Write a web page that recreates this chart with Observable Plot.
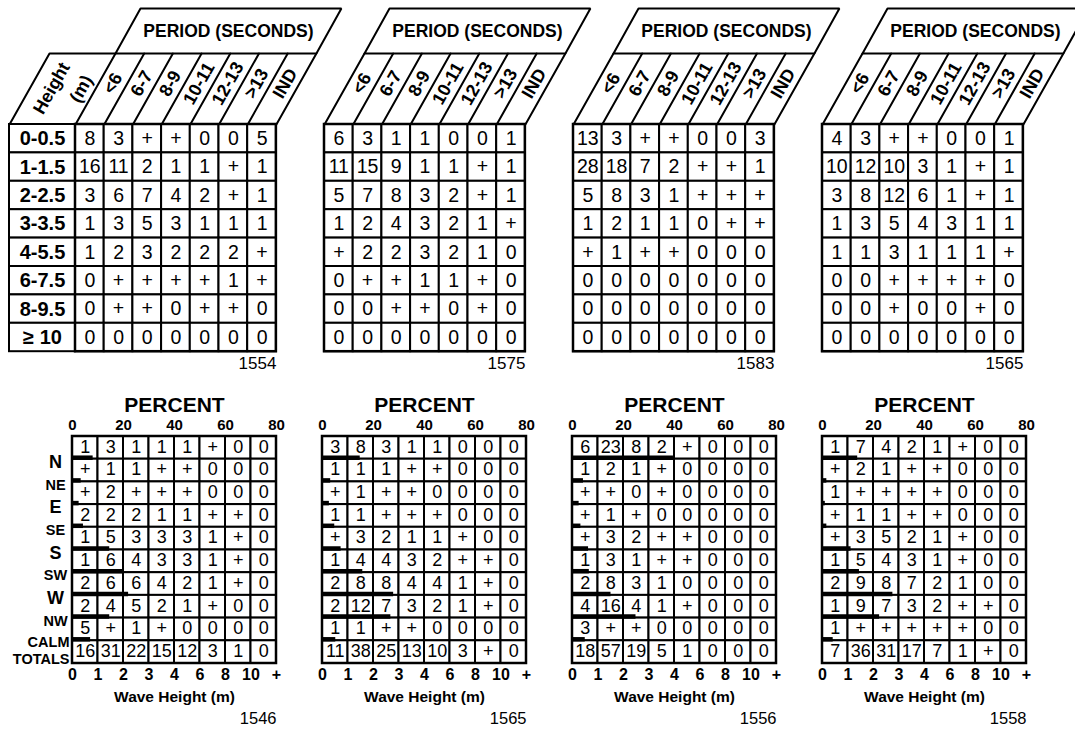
<!DOCTYPE html>
<html><head><meta charset="utf-8">
<script src="https://cdn.jsdelivr.net/npm/d3@7"></script>
<script src="https://cdn.jsdelivr.net/npm/@observablehq/plot@0.6"></script>
<style>
body{margin:0;background:#fff;}
#chart{position:relative;width:1075px;height:729px;overflow:hidden;background:#fff;font-family:"Liberation Sans",Arial,sans-serif;}
#chart svg{position:absolute;}
</style></head><body><div id="chart"></div>
<script>
// ---------- DATA ----------
const periods = ["<6","6-7","8-9","10-11","12-13",">13","IND"];
const heightClasses = ["0-0.5","1-1.5","2-2.5","3-3.5","4-5.5","6-7.5","8-9.5","≥ 10"];
const topIds = ["1554","1575","1583","1565"];

const top1554 = [
  ["8","3","+","+","0","0","5"],
  ["16","11","2","1","1","+","1"],
  ["3","6","7","4","2","+","1"],
  ["1","3","5","3","1","1","1"],
  ["1","2","3","2","2","2","+"],
  ["0","+","+","+","+","1","+"],
  ["0","+","+","0","+","+","0"],
  ["0","0","0","0","0","0","0"]];
const top1575 = [
  ["6","3","1","1","0","0","1"],
  ["11","15","9","1","1","+","1"],
  ["5","7","8","3","2","+","1"],
  ["1","2","4","3","2","1","+"],
  ["+","2","2","3","2","1","0"],
  ["0","+","+","1","1","+","0"],
  ["0","0","+","+","0","+","0"],
  ["0","0","0","0","0","0","0"]];
const top1583 = [
  ["13","3","+","+","0","0","3"],
  ["28","18","7","2","+","+","1"],
  ["5","8","3","1","+","+","+"],
  ["1","2","1","1","0","+","+"],
  ["+","1","+","+","0","0","0"],
  ["0","0","0","0","0","0","0"],
  ["0","0","0","0","0","0","0"],
  ["0","0","0","0","0","0","0"]];
const top1565 = [
  ["4","3","+","+","0","0","1"],
  ["10","12","10","3","1","+","1"],
  ["3","8","12","6","1","+","1"],
  ["1","3","5","4","3","1","1"],
  ["1","1","3","1","1","1","+"],
  ["0","0","+","+","+","+","0"],
  ["0","0","+","0","0","+","0"],
  ["0","0","0","0","0","0","0"]];

const directions = ["N","NE","E","SE","S","SW","W","NW","CALM","TOTALS"];
const waveHeightTicks = ["0","1","2","3","4","6","8","10","+"];
const percentTicks = [0,20,40,60,80];
const bottomIds = ["1546","1565","1556","1558"];

const bottom1546 = [
  ["1","3","1","1","1","+","0","0"],
  ["+","1","1","+","+","0","0","0"],
  ["+","2","+","+","+","0","0","0"],
  ["2","2","2","1","1","+","+","0"],
  ["1","5","3","3","3","1","+","0"],
  ["1","6","4","3","3","1","+","0"],
  ["2","6","6","4","2","1","+","0"],
  ["2","4","5","2","1","+","0","0"],
  ["5","+","1","+","0","0","0","0"],
  ["16","31","22","15","12","3","1","0"]];
const bottom1565 = [
  ["3","8","3","1","1","0","0","0"],
  ["1","1","1","+","+","0","0","0"],
  ["+","1","+","+","0","0","0","0"],
  ["1","1","+","+","+","0","0","0"],
  ["+","3","2","1","1","+","0","0"],
  ["1","4","4","3","2","+","+","0"],
  ["2","8","8","4","4","1","+","0"],
  ["2","12","7","3","2","1","+","0"],
  ["1","1","+","+","0","0","0","0"],
  ["11","38","25","13","10","3","+","0"]];
const bottom1556 = [
  ["6","23","8","2","+","0","0","0"],
  ["1","2","1","+","0","0","0","0"],
  ["+","+","0","+","0","0","0","0"],
  ["+","1","+","0","0","0","0","0"],
  ["+","3","2","+","+","0","0","0"],
  ["1","3","1","+","+","0","0","0"],
  ["2","8","3","1","0","0","0","0"],
  ["4","16","4","1","+","0","0","0"],
  ["3","+","+","0","0","0","0","0"],
  ["18","57","19","5","1","0","0","0"]];
const bottom1558 = [
  ["1","7","4","2","1","+","0","0"],
  ["+","2","1","+","+","0","0","0"],
  ["1","+","+","+","+","0","0","0"],
  ["+","1","1","+","+","0","0","0"],
  ["+","3","5","2","1","+","0","0"],
  ["1","5","4","3","1","+","0","0"],
  ["2","9","8","7","2","1","0","0"],
  ["1","9","7","3","2","+","+","0"],
  ["1","+","+","+","+","+","0","0"],
  ["7","36","31","17","7","1","+","0"]];

// direction frequency bars (percent)
const bars1546 = [8.1,3.4,2.6,4.3,14.6,19.7,22.0,14.6,7.1];
const bars1565 = [14.8,3.2,2.7,4.8,7.3,15.8,27.9,26.8,5.2];
const bars1556 = [39.6,4.3,2.6,3.3,6.3,6.6,15.1,24.9,5.0];
const bars1558 = [13.8,1.7,1.1,1.7,11.2,14.5,27.6,22.4,4.2];

// ---------- LAYOUT ----------
const FONT = "Liberation Sans, Arial, Helvetica, sans-serif";
const chart = document.getElementById("chart");

function topPanel(values, id, showLabels, dataLeft) {
  const colW = 28.7, rowH = 28.4;
  const W = 380, H = 380, ox = 75, oy = 124;
  const ux = p => p / colW, uy = p => p / rowH;
  const nC = periods.length, nR = heightClasses.length;
  const s = ux(40), hh = uy(71), s2 = ux(25), hb = uy(45), lw = ux(66);
  const cells = [];
  values.forEach((row, r) => row.forEach((v, c) => cells.push({r, c, v})));
  const segs = [];
  for (let j = 0; j <= nC; j++) segs.push({x: j, y: 0, z: "c" + j}, {x: j + s, y: -hh, z: "c" + j});
  [[s, -hh], [s + s2, -hh - hb], [nC + s + s2, -hh - hb], [nC + s, -hh], [s, -hh]]
    .forEach(([x, y]) => segs.push({x, y, z: "box"}));
  if (showLabels) {
    [[-lw, 0], [-lw + s, -hh], [s, -hh]].forEach(([x, y]) => segs.push({x, y, z: "hbox"}));
  }
  const marks = [
    Plot.line(segs, {x: "x", y: "y", z: "z", stroke: "black", strokeWidth: 2, strokeLinejoin: "miter"}),
    Plot.rect(cells, {x1: "c", x2: d => d.c + 1, y1: "r", y2: d => d.r + 1, fill: "white", stroke: "black", strokeWidth: 2}),
    Plot.text(cells, {x: d => d.c + 0.5, y: d => d.r + 0.5, text: "v", fontSize: 19.5, fontFamily: FONT, fill: "black"}),
    Plot.text(periods, {x: (d, i) => i + 0.5 + s * 41 / 71, y: -uy(41), text: d => d, rotate: -60.6,
      fontSize: 18, fontWeight: "bold", fontFamily: FONT, fill: "black"}),
    Plot.text(["PERIOD (SECONDS)"], {x: nC / 2 + s + s2 / 2, y: -hh - hb / 2, text: d => d,
      fontSize: 17.5, fontWeight: "bold", fontFamily: FONT, fill: "black"}),
    Plot.text([id], {x: nC, y: nR + uy(12), text: d => d, textAnchor: "end", fontSize: 17, fontFamily: FONT, fill: "black"})
  ];
  if (showLabels) {
    marks.push(
      Plot.rect(heightClasses, {x1: -lw, x2: 0, y1: (d, i) => i, y2: (d, i) => i + 1, fill: "white", stroke: "black", strokeWidth: 2}),
      Plot.text(heightClasses, {x: -lw / 2, y: (d, i) => i + 0.5, text: d => d, fontSize: 20, fontWeight: "bold", fontFamily: FONT, fill: "black"}),
      Plot.text(["Height\n(m)"], {x: ux(-1), y: -uy(55.5), text: d => d, rotate: -60.6, textAnchor: "end",
        lineAnchor: "middle", lineHeight: 1.45, fontSize: 18, fontWeight: "bold", fontFamily: FONT, fill: "black"})
    );
  }
  marks.push(Plot.rect([0], {x1: 0, x2: nC, y1: 0, y2: nR, fill: "none", stroke: "black", strokeWidth: 2.5}));
  const svg = Plot.plot({
    width: W, height: H,
    marginTop: 0, marginRight: 0, marginBottom: 0, marginLeft: 0,
    x: {domain: [-ox / colW, (W - ox) / colW], range: [0, W], axis: null},
    y: {domain: [-oy / rowH, (H - oy) / rowH], range: [0, H], axis: null},
    style: {background: "transparent", overflow: "visible", fontFamily: FONT},
    marks
  });
  svg.style.left = (dataLeft - ox) + "px";
  svg.style.top = "0px";
  chart.appendChild(svg);
}

function bottomPanel(values, bars, id, showLabels, gridLeft) {
  const pxPct = 204 / 80, rowH = 22.7;
  const W = 335, H = 344, ox = 75, oy = 51;
  const ux = p => p / pxPct, uy = p => p / rowH;
  const nR = directions.length;
  const cells = [];
  values.forEach((row, r) => row.forEach((v, c) => cells.push({r, c, v})));
  const barData = bars.map((p, i) => ({p, i}));
  const marks = [
    Plot.rect(cells, {x1: d => d.c * 10, x2: d => d.c * 10 + 10, y1: "r", y2: d => d.r + 1, fill: "white", stroke: "black", strokeWidth: 2}),
    Plot.text(cells, {x: d => d.c * 10 + 5, y: d => d.r + 0.5, text: "v", dy: -1, fontSize: 18, fontFamily: FONT, fill: "black"}),
    Plot.ruleY(barData, {y: d => d.i + 1, x1: 0, x2: "p", stroke: "black", strokeWidth: 4.5, dy: -1.5}),
    Plot.rect([0], {x1: 0, x2: 80, y1: 0, y2: nR, fill: "none", stroke: "black", strokeWidth: 2.5}),
    Plot.text(percentTicks, {x: d => d, y: -uy(11), text: d => String(d), fontSize: 15, fontWeight: "bold", fontFamily: FONT, fill: "black"}),
    Plot.text(["PERCENT"], {x: 40, y: -uy(31), text: d => d, fontSize: 21, fontWeight: "bold", fontFamily: FONT, fill: "black"}),
    Plot.text(waveHeightTicks, {x: (d, i) => i * 10, y: nR + uy(11), text: d => d, fontSize: 16, fontWeight: "bold", fontFamily: FONT, fill: "black"}),
    Plot.text(["Wave Height (m)"], {x: 40, y: nR + uy(34), text: d => d, fontSize: 15.5, fontWeight: "bold", fontFamily: FONT, fill: "black"}),
    Plot.text([id], {x: 80, y: nR + uy(55), text: d => d, textAnchor: "end", fontSize: 16.5, fontFamily: FONT, fill: "black"})
  ];
  if (showLabels) {
    const compass = directions.slice(0, 8);
    const extra = directions.slice(8);
    marks.push(
      Plot.text(compass, {x: ux(-17), y: (d, i) => i + 1, dy: 3, text: d => d,
        fontSize: d => d.length === 1 ? 18 : 14.5, fontWeight: "bold", fontFamily: FONT, fill: "black"}),
      Plot.text(extra, {x: ux(-3), y: (d, i) => i === 0 ? 9 : 9.72, dy: 2, text: d => d, textAnchor: "end",
        fontSize: 14.5, fontWeight: "bold", fontFamily: FONT, fill: "black"})
    );
  }
  const svg = Plot.plot({
    width: W, height: H,
    marginTop: 0, marginRight: 0, marginBottom: 0, marginLeft: 0,
    x: {domain: [-ox / pxPct, (W - ox) / pxPct], range: [0, W], axis: null},
    y: {domain: [-oy / rowH, (H - oy) / rowH], range: [0, H], axis: null},
    style: {background: "transparent", overflow: "visible", fontFamily: FONT},
    marks
  });
  svg.style.left = (gridLeft - ox) + "px";
  svg.style.top = "385px";
  chart.appendChild(svg);
}

const topSets = [top1554, top1575, top1583, top1565];
topSets.forEach((v, i) => topPanel(v, topIds[i], i === 0, 75 + 249 * i));

const bottomSets = [bottom1546, bottom1565, bottom1556, bottom1558];
const barSets = [bars1546, bars1565, bars1556, bars1558];
bottomSets.forEach((v, i) => bottomPanel(v, barSets[i], bottomIds[i], i === 0, 72 + 250 * i));
</script>
</body></html>
